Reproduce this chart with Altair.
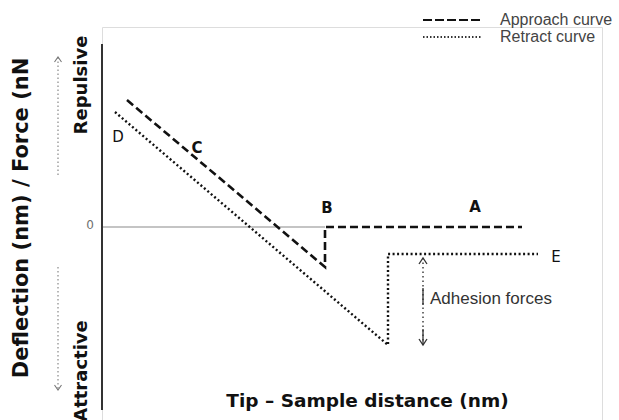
import altair as alt
import pandas as pd

# Force curve geometry (x: tip-sample distance, y: cantilever deflection)
approach_x = [5.0, 44.6, 44.6, 84.0]
approach_y = [12.7, -4.0, 0.0, 0.0]
retract_x = [2.6, 57.2, 57.2, 87.2]
retract_y = [11.5, -11.8, -2.7, -2.7]

# Point labels along the curves
point_labels = ["A", "B", "C", "D", "E"]
label_x = [74.6, 45.0, 19.0, 3.2, 90.8]
label_y = [2.0, 1.9, 7.9, 9.0, -3.0]
label_weight = ["bold", "bold", "bold", "normal", "normal"]

# Vertical axis and zero line
axis_y_top, axis_y_bottom = 18.3, -18.3
zero_line_end = 44.6

# Adhesion force arrow between retract minimum and baseline
adhesion_x = 64.2
adhesion_top, adhesion_bottom = -3.1, -11.8

# Repulsive / attractive direction arrows at the left
dir_x = -8.8
up_from, up_to = 5.2, 17.0
down_from, down_to = -4.0, -16.3

# Legend entries
legend_names = ["Approach curve", "Retract curve"]
legend_y = [20.7, 19.0]
legend_x0, legend_x1, legend_text_x = 64.2, 76.0, 79.6

XS = alt.Scale(domain=[0, 100], nice=False, zero=False)
YS = alt.Scale(domain=[-19.3, 20], nice=False, zero=False)


def X(f="x"):
    return alt.X(f"{f}:Q", scale=XS, axis=None)


def Y(f="y"):
    return alt.Y(f"{f}:Q", scale=YS, axis=None)


def path(xs, ys):
    return pd.DataFrame({"x": xs, "y": ys, "i": list(range(len(xs)))})


def curve(df, dash, width):
    return alt.Chart(df).mark_line(
        color="#111111", strokeDash=dash, strokeWidth=width
    ).encode(x=X(), y=Y(), order="i:Q")


def chevron(x, y, dx, dy):
    # open arrow head with its tip at (x, y)
    return path([x - dx, x, x + dx], [y - dy, y, y - dy])


approach = curve(path(approach_x, approach_y), [8, 4], 2.6)
retract = curve(path(retract_x, retract_y), [2, 2.5], 2.4)

y_axis = alt.Chart(pd.DataFrame({"x": [0], "y": [axis_y_top], "y2": [axis_y_bottom]})).mark_rule(
    color="#333333", strokeWidth=2
).encode(x=X(), y=Y(), y2="y2:Q")

zero_line = alt.Chart(pd.DataFrame({"x": [0], "x2": [zero_line_end], "y": [0]})).mark_rule(
    color="#8a8a8a", strokeWidth=1.2
).encode(x=X(), x2="x2:Q", y=Y())

zero_label = alt.Chart(pd.DataFrame({"x": [-2.4], "y": [0.2], "t": ["0"]})).mark_text(
    font="DejaVu Sans", fontSize=12, color="#6f6f6f", align="center", baseline="middle"
).encode(x=X(), y=Y(), text="t:N")

# left direction arrows
dir_lines = alt.layer(
    alt.Chart(path([dir_x, dir_x], [up_from, up_to])).mark_line(
        color="#888888", strokeDash=[1.5, 2.5], strokeWidth=1.2
    ).encode(x=X(), y=Y(), order="i:Q"),
    alt.Chart(path([dir_x, dir_x], [down_from, down_to])).mark_line(
        color="#888888", strokeDash=[1.5, 2.5], strokeWidth=1.2
    ).encode(x=X(), y=Y(), order="i:Q"),
    alt.Chart(chevron(dir_x, up_to, 0.7, 0.5)).mark_line(
        color="#777777", strokeWidth=1.1
    ).encode(x=X(), y=Y(), order="i:Q"),
    alt.Chart(chevron(dir_x, down_to, 0.7, -0.5)).mark_line(
        color="#777777", strokeWidth=1.1
    ).encode(x=X(), y=Y(), order="i:Q"),
)

# adhesion arrow
adhesion = alt.layer(
    alt.Chart(path([adhesion_x, adhesion_x], [adhesion_top, adhesion_bottom])).mark_line(
        color="#333333", strokeDash=[1.5, 3], strokeWidth=1.4
    ).encode(x=X(), y=Y(), order="i:Q"),
    alt.Chart(path([adhesion_x, adhesion_x], [-6.1, -7.8])).mark_line(
        color="#333333", strokeWidth=1.3
    ).encode(x=X(), y=Y(), order="i:Q"),
    alt.Chart(path([adhesion_x, adhesion_x], [-10.2, adhesion_bottom])).mark_line(
        color="#333333", strokeWidth=1.3
    ).encode(x=X(), y=Y(), order="i:Q"),
    alt.Chart(chevron(adhesion_x, adhesion_top, 0.8, 0.6)).mark_line(
        color="#333333", strokeWidth=1.3
    ).encode(x=X(), y=Y(), order="i:Q"),
    alt.Chart(chevron(adhesion_x, adhesion_bottom, 0.8, -0.6)).mark_line(
        color="#333333", strokeWidth=1.3
    ).encode(x=X(), y=Y(), order="i:Q"),
)
adhesion_text = alt.Chart(pd.DataFrame({"x": [65.6], "y": [-7.2], "t": ["Adhesion forces"]})).mark_text(
    font="Liberation Sans", fontSize=17, color="#333333", align="left", baseline="middle"
).encode(x=X(), y=Y(), text="t:N")

# point labels
labels_df = pd.DataFrame({"x": label_x, "y": label_y, "t": point_labels, "w": label_weight})
labels_bold = alt.Chart(labels_df[labels_df.w == "bold"]).mark_text(
    font="DejaVu Sans", fontSize=15, fontWeight="bold", color="#111111", baseline="middle"
).encode(x=X(), y=Y(), text="t:N")
labels_plain = alt.Chart(labels_df[labels_df.w == "normal"]).mark_text(
    font="DejaVu Sans", fontSize=15, color="#111111", baseline="middle"
).encode(x=X(), y=Y(), text="t:N")

# legend
legend_lines = alt.layer(
    alt.Chart(path([legend_x0, legend_x1], [legend_y[0]] * 2)).mark_line(
        color="#111111", strokeDash=[9, 3], strokeWidth=2
    ).encode(x=X(), y=Y(), order="i:Q"),
    alt.Chart(path([legend_x0, legend_x1], [legend_y[1]] * 2)).mark_line(
        color="#333333", strokeDash=[1.5, 2], strokeWidth=1.8
    ).encode(x=X(), y=Y(), order="i:Q"),
)
legend_text = alt.Chart(pd.DataFrame({"x": [legend_text_x] * 2, "y": legend_y, "t": legend_names})).mark_text(
    font="Liberation Sans", fontSize=16, color="#444444", align="left", baseline="middle"
).encode(x=X(), y=Y(), text="t:N")

# titles
titles_df = pd.DataFrame({
    "x": [-16.0, -4.0, -4.0],
    "y": [0.9, 14.2, -14.4],
    "t": ["Deflection (nm) / Force (nN", "Repulsive", "Attractive"],
})
y_title = alt.Chart(titles_df.iloc[[0]]).mark_text(
    font="DejaVu Sans", fontSize=21, fontWeight="bold", angle=270, color="#111111",
    align="center", baseline="middle"
).encode(x=X(), y=Y(), text="t:N")
side_titles = alt.Chart(titles_df.iloc[[1, 2]]).mark_text(
    font="DejaVu Sans", fontSize=18, fontWeight="bold", angle=270, color="#111111",
    align="center", baseline="middle"
).encode(x=X(), y=Y(), text="t:N")
x_title = alt.Chart(pd.DataFrame({"x": [53.1], "y": [-17.4], "t": ["Tip \u2013 Sample distance (nm)"]})).mark_text(
    font="DejaVu Sans", fontSize=18.5, fontWeight="bold", color="#111111",
    align="center", baseline="middle"
).encode(x=X(), y=Y(), text="t:N")

chart = alt.layer(
    zero_line, y_axis, zero_label, dir_lines, approach, retract, adhesion, adhesion_text,
    labels_bold, labels_plain, legend_lines, legend_text, y_title, side_titles, x_title,
).properties(
    width=500, height=393,
    autosize=alt.AutoSizeParams(type="none"),
    padding={"left": 102, "top": 27, "right": 17, "bottom": 0},
).configure_view(stroke=None).configure(background="white")

chart.save("out.html", embed_options={"renderer": "svg", "actions": False})
